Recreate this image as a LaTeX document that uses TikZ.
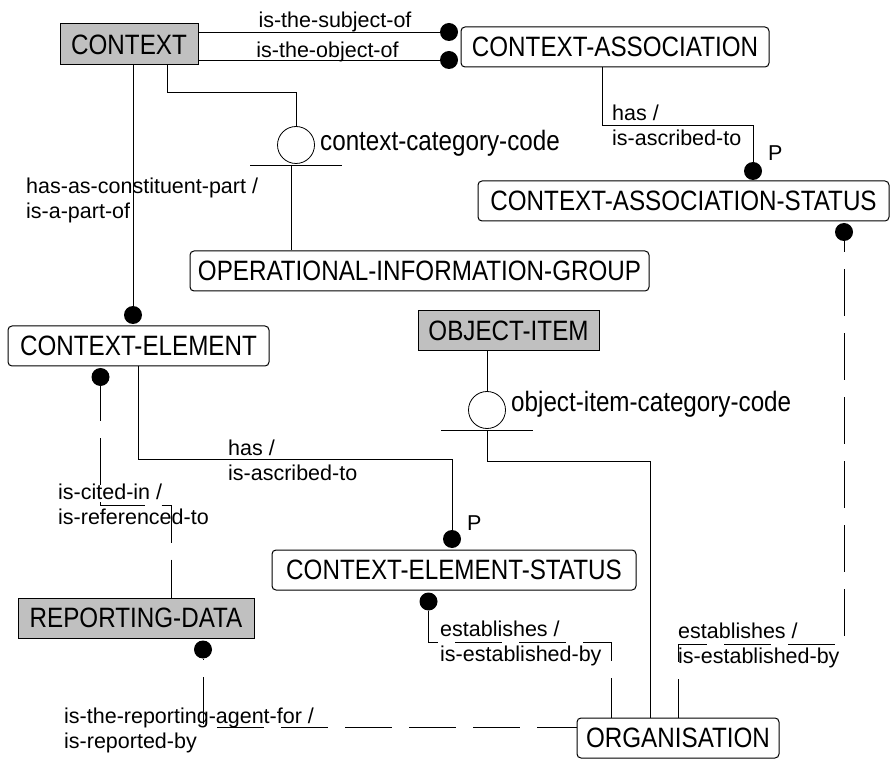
\documentclass[tikz,border=0pt]{standalone}
\usepackage{fontspec}
\setmainfont{Liberation Sans}
\newfontfamily\entfont[FakeStretch=0.865]{Liberation Sans}
\usetikzlibrary{calc}
\pgfdeclarelayer{bg}
\pgfsetlayers{bg,main}
\definecolor{entgray}{RGB}{192,192,192}
\begin{document}
\begin{tikzpicture}[x=1pt,y=-1pt,
  ent/.style={draw, line width=1pt, rounded corners=4pt, minimum height=40pt, inner sep=0pt, font=\entfont\fontsize{28}{32}\selectfont, fill=white},
  indep/.style={ent, rounded corners=0pt, fill=entgray},
  dot/.style={circle, fill=black, inner sep=0pt, minimum size=18pt},
  attr/.style={circle, draw, line width=0.8pt, inner sep=0pt, minimum size=37pt},
  rel/.style={line width=0.8pt},
  nid/.style={rel, dash pattern=on 47pt off 17pt},
  lbl/.style={font=\fontsize{21.5}{25.5}\selectfont, inner sep=0pt},
  lbltwo/.style={lbl, align=left, anchor=north west},
  attrname/.style={font=\entfont\fontsize{28}{32}\selectfont, inner sep=0pt, anchor=base west}
]
\useasboundingbox (0,0) rectangle (892,759);

% entities
\node[indep, minimum width=138pt, minimum height=41pt] (ctx) at (129,44.5) {CONTEXT};
\node[ent, minimum width=308pt] (ca) at (615,47) {CONTEXT-ASSOCIATION};
\node[ent, minimum width=411pt] (cas) at (683.5,201) {CONTEXT-ASSOCIATION-STATUS};
\node[ent, minimum width=459pt] (oig) at (419.5,271) {OPERATIONAL-INFORMATION-GROUP};
\node[ent, minimum width=261pt] (ce) at (138.5,346) {CONTEXT-ELEMENT};
\node[indep, minimum width=181pt] (oi) at (508.5,331) {OBJECT-ITEM};
\node[ent, minimum width=364pt] (ces) at (454,570) {CONTEXT-ELEMENT-STATUS};
\node[indep, minimum width=236pt] (rd) at (136,618) {REPORTING-DATA};
\node[ent, minimum width=202pt] (org) at (678,738) {ORGANISATION};

% dots
\node[dot] (ds) at (449,32) {};
\node[dot] (do) at (449,60) {};
\node[dot] (dcas) at (753,171) {};
\node[dot] (dcasb) at (844,232) {};
\node[dot] (dcet) at (133,315) {};
\node[dot] (dceb) at (100.5,377) {};
\node[dot] (dcest) at (452,539) {};
\node[dot] (dcesb) at (428.5,601.5) {};
\node[dot] (drd) at (203,649.5) {};

% category circles
\node[attr] (ccc) at (296,145) {};
\node[attr] (oic) at (487,410) {};

% corner coordinates
\coordinate (k1) at (167,92);
\coordinate (ccbar) at (296,165);
\coordinate (k1b) at (291,165);
\coordinate (k2) at (602,125);
\coordinate (k3) at (678,644);
\coordinate (oibar) at (487,430);
\coordinate (k4) at (650,461);
\coordinate (k5) at (138,459);
\coordinate (k6) at (611,642);
\coordinate (k7) at (171,505);
\coordinate (k8) at (203,727);

\begin{pgfonlayer}{bg}
\draw[rel] (ctx.east |- ds) -- (ds);
\draw[rel] (ctx.east |- do) -- (do);
\draw[rel] (ctx.south -| dcet) -- (dcet);
\draw[rel] (ctx.south -| k1) -- (k1) -| (ccc.north);
\draw[rel] ([xshift=-46pt]ccbar) -- ([xshift=46pt]ccbar);
\draw[rel] (k1b) -- (k1b |- oig.north);
\draw[rel] (ca.south -| k2) -- (k2) -| (dcas);
\draw[nid, dash phase=36pt] (dcasb) |- (k3) -- (org.north);
\draw[rel] (oi.south -| oic) -- (oic.north);
\draw[rel] ([xshift=-46pt]oibar) -- ([xshift=46pt]oibar);
\draw[rel] (oibar) |- (k4) -- (k4 |- org.north);
\draw[rel] (ce.south -| k5) -- (k5) -| (dcest);
\draw[nid, dash phase=6pt] (dcesb) |- (k6) -- (k6 |- org.north);
\draw[nid, dash phase=12pt] (dceb) |- (k7) -- (k7 |- rd.north);
\draw[nid, dash phase=45.5pt] (drd) -- (k8) -- (k8 -| org.west);
\end{pgfonlayer}

% labels
\node[lbl, anchor=base] (l1) at (335,28) {is-the-subject-of};
\node[lbl, anchor=base] (l2) at (327.5,58) {is-the-object-of};
\node[attrname] (a1) at (320,151) {context-category-code};
\node[attrname] (a2) at (511,411) {object-item-category-code};
\node[lbl, anchor=base west] (p1) at (768,161) {P};
\node[lbl, anchor=base west] (p2) at (467,530) {P};
\node[lbltwo] (l3) at (26,177) {\rule{0pt}{16pt}has-as-constituent-part /\\is-a-part-of};
\node[lbltwo] (l4) at (612,104) {\rule{0pt}{16pt}has /\\is-ascribed-to};
\node[lbltwo] (l5) at (228,439) {\rule{0pt}{16pt}has /\\is-ascribed-to};
\node[lbltwo] (l6) at (58,483) {\rule{0pt}{16pt}is-cited-in /\\is-referenced-to};
\node[lbltwo] (l7) at (64,707) {\rule{0pt}{16pt}is-the-reporting-agent-for /\\is-reported-by};
\node[lbltwo] (l8) at (440,620) {\rule{0pt}{16pt}establishes /\\is-established-by};
\node[lbltwo] (l9) at (678,622) {\rule{0pt}{16pt}establishes /\\is-established-by};
\end{tikzpicture}
\end{document}
